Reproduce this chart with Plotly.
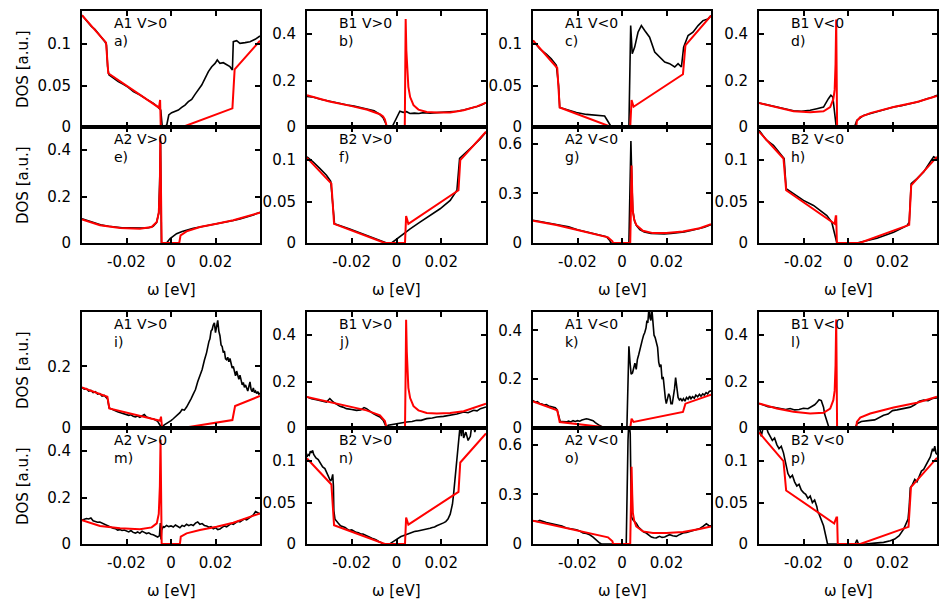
import plotly.graph_objects as go

# ---------------- data ----------------
# panel a : A1 V>0
a_exp_w = [-0.04, -0.0379, -0.0357, -0.0342, -0.0327, -0.0312, -0.0297, -0.029, -0.0285, -0.0279, -0.0259, -0.0237, -0.0214, -0.0192, -0.0169, -0.0139, -0.0109, -0.0079, -0.0057, -0.0046, -0.004, -0.0031, -0.0019, -0.001, 0.0003, 0.0018, 0.0033, 0.0048, 0.0063, 0.0078, 0.0093, 0.0108, 0.0123, 0.0138, 0.0153, 0.0168, 0.0183, 0.0198, 0.0208, 0.022, 0.0235, 0.025, 0.0265, 0.0276, 0.028, 0.0295, 0.031, 0.0333, 0.0355, 0.0378, 0.04]
a_exp_dos = [0.135, 0.128, 0.121, 0.118, 0.113, 0.107, 0.103, 0.099, 0.073, 0.063, 0.0587, 0.0547, 0.0515, 0.0479, 0.0426, 0.0386, 0.0334, 0.0286, 0.0237, 0.0205, 0.0024, 0.0, 0.0024, 0.0145, 0.0173, 0.0185, 0.0205, 0.0237, 0.0265, 0.0306, 0.0334, 0.0394, 0.0447, 0.0507, 0.0587, 0.0668, 0.0728, 0.0768, 0.0809, 0.0768, 0.0776, 0.0748, 0.0728, 0.0688, 0.103, 0.1042, 0.101, 0.1018, 0.103, 0.1058, 0.1098]
a_th_w = [-0.04, -0.0292, -0.0282, -0.0054, -0.0049, -0.0046, 0.0052, 0.0276, 0.0286, 0.04]
a_th_dos = [0.135, 0.1018, 0.0648, 0.0233, 0.0326, 0.0, 0.0, 0.0225, 0.0696, 0.1042]

# panel b : B1 V>0
b_exp_w = [-0.04, -0.037, -0.034, -0.031, -0.028, -0.025, -0.022, -0.019, -0.016, -0.013, -0.010, -0.008, -0.006, -0.0048, -0.0043, -0.002, -0.0005, 0.0005, 0.0015, 0.003, 0.0045, 0.006, 0.008, 0.010, 0.012, 0.015, 0.018, 0.021, 0.024, 0.027, 0.030, 0.033, 0.036, 0.038, 0.040]
b_exp_dos = [0.132, 0.128, 0.12, 0.113, 0.108, 0.102, 0.095, 0.09, 0.083, 0.077, 0.07, 0.058, 0.04, 0.015, 0.0, 0.0, 0.03, 0.055, 0.068, 0.063, 0.066, 0.058, 0.06, 0.058, 0.062, 0.06, 0.062, 0.063, 0.066, 0.068, 0.073, 0.079, 0.088, 0.095, 0.105]
b_th_w = [-0.04, -0.030, -0.020, -0.013, -0.0074, -0.0060, -0.0052, -0.0046, -0.0043, 0.0037, 0.0039, 0.0041, 0.0044, 0.0048, 0.0053, 0.0061, 0.0076, 0.0098, 0.0135, 0.018, 0.024, 0.030, 0.036, 0.040]
b_th_dos = [0.137, 0.110, 0.090, 0.074, 0.055, 0.045, 0.033, 0.015, 0.0, 0.0, 0.25, 0.465, 0.33, 0.24, 0.173, 0.129, 0.094, 0.075, 0.065, 0.062, 0.063, 0.072, 0.089, 0.105]

# panel c : A1 V<0
c_exp_w = [-0.04, -0.037, -0.034, -0.0318, -0.0295, -0.0285, -0.028, -0.025, -0.0205, -0.016, -0.0115, -0.0078, -0.0067, -0.0055, -0.0048, 0.0031, 0.0039, 0.0046, 0.0057, 0.0072, 0.0087, 0.0102, 0.0124, 0.0147, 0.0169, 0.0192, 0.0214, 0.0237, 0.0252, 0.0267, 0.0277, 0.0297, 0.0319, 0.0342, 0.0364, 0.0386, 0.04]
c_exp_dos = [0.1044, 0.0944, 0.088, 0.0824, 0.0744, 0.05, 0.0236, 0.0212, 0.0176, 0.0152, 0.0136, 0.0132, 0.0084, 0.0024, 0.0, 0.0, 0.1224, 0.0884, 0.0964, 0.1144, 0.1224, 0.1164, 0.1084, 0.0904, 0.0844, 0.0784, 0.0764, 0.0724, 0.0764, 0.0724, 0.0964, 0.1104, 0.1144, 0.1224, 0.1284, 0.1304, 0.1344]
c_th_w = [-0.04, -0.0291, -0.028, -0.0048, 0.0037, 0.0043, 0.0052, 0.0274, 0.0285, 0.04]
c_th_dos = [0.1044, 0.0712, 0.0236, 0.0, 0.0, 0.0324, 0.0244, 0.0636, 0.0984, 0.1344]

# panel d : B1 V<0
d_exp_w = [-0.04, -0.036, -0.032, -0.028, -0.0245, -0.021, -0.017, -0.014, -0.011, -0.0088, -0.0077, -0.0068, -0.0062, -0.0053, 0.0029, 0.004, 0.007, 0.010, 0.013, 0.0165, 0.0205, 0.024, 0.028, 0.032, 0.0355, 0.038, 0.04]
d_exp_dos = [0.1036, 0.095, 0.085, 0.075, 0.07, 0.068, 0.072, 0.079, 0.086, 0.122, 0.137, 0.129, 0.072, 0.0, 0.0, 0.029, 0.05, 0.058, 0.065, 0.074, 0.086, 0.092, 0.1, 0.11, 0.122, 0.128, 0.137]
d_th_w = [-0.04, -0.032, -0.0245, -0.017, -0.011, -0.008, -0.0066, -0.0060, -0.0056, -0.0053, -0.0051, -0.0049, 0.0037, 0.0040, 0.0055, 0.010, 0.0205, 0.031, 0.040]
d_th_dos = [0.1036, 0.0835, 0.0676, 0.0633, 0.0676, 0.086, 0.12, 0.16, 0.27, 0.463, 0.25, 0.0, 0.0, 0.026, 0.043, 0.060, 0.0863, 0.108, 0.134]

# panel e : A2 V>0
e_exp_w = [-0.04, -0.037, -0.034, -0.031, -0.028, -0.025, -0.022, -0.019, -0.016, -0.013, -0.010, -0.008, -0.0065, -0.0055, -0.005, -0.0047, -0.0043, -0.002, -0.0004, 0.0025, 0.005, 0.007, 0.010, 0.013, 0.016, 0.019, 0.022, 0.025, 0.028, 0.031, 0.034, 0.037, 0.040]
e_exp_dos = [0.105, 0.095, 0.085, 0.077, 0.072, 0.068, 0.066, 0.065, 0.063, 0.064, 0.066, 0.072, 0.088, 0.13, 0.3, 0.44, 0.0, 0.0, 0.019, 0.04, 0.05, 0.056, 0.063, 0.069, 0.074, 0.08, 0.085, 0.09, 0.097, 0.104, 0.112, 0.121, 0.133]
e_th_w = [-0.04, -0.0319, -0.0229, -0.014, -0.0087, -0.0064, -0.0055, -0.0050, -0.0048, -0.0045, -0.0042, 0.0037, 0.0043, 0.007, 0.013, 0.0205, 0.028, 0.040]
e_th_dos = [0.102, 0.0763, 0.0647, 0.0619, 0.069, 0.091, 0.13, 0.25, 0.458, 0.2, 0.0, 0.0, 0.033, 0.05, 0.069, 0.083, 0.098, 0.131]

# panel f : B2 V>0
f_exp_w = [-0.04, -0.0373, -0.0343, -0.0313, -0.0294, -0.0283, -0.0277, -0.0209, -0.0134, -0.0074, -0.0044, -0.0022, 0.0001, 0.0031, 0.0061, 0.0105, 0.015, 0.0195, 0.024, 0.027, 0.0282, 0.0315, 0.0345, 0.0375, 0.04]
f_exp_dos = [0.104, 0.098, 0.09, 0.0818, 0.0745, 0.0453, 0.0231, 0.017, 0.0089, 0.0028, 0.0, 0.0, 0.0049, 0.0109, 0.017, 0.0251, 0.0332, 0.0413, 0.0514, 0.0636, 0.102, 0.11, 0.118, 0.126, 0.134]
f_th_w = [-0.04, -0.0291, -0.0279, -0.0052, 0.0038, 0.0043, 0.0053, 0.0277, 0.0285, 0.04]
f_th_dos = [0.1028, 0.0717, 0.0231, 0.0, 0.0, 0.0324, 0.0231, 0.0636, 0.1, 0.1344]

# panel g : A2 V<0
g_exp_w = [-0.04, -0.036, -0.032, -0.028, -0.024, -0.020, -0.016, -0.012, -0.009, -0.007, -0.0055, -0.0050, 0.0031, 0.0036, 0.0040, 0.0043, 0.0048, 0.0057, 0.0065, 0.008, 0.010, 0.013, 0.016, 0.019, 0.022, 0.025, 0.028, 0.031, 0.034, 0.037, 0.040]
g_exp_dos = [0.137, 0.128, 0.118, 0.108, 0.098, 0.08, 0.068, 0.056, 0.047, 0.038, 0.015, 0.0, 0.0, 0.3, 0.616, 0.45, 0.2, 0.13, 0.105, 0.08, 0.066, 0.058, 0.055, 0.055, 0.058, 0.062, 0.067, 0.075, 0.085, 0.095, 0.11]
g_th_w = [-0.04, -0.0295, -0.0205, -0.0115, -0.0063, -0.0043, -0.0040, 0.0031, 0.0037, 0.0040, 0.0043, 0.0046, 0.0049, 0.0055, 0.0064, 0.0094, 0.0139, 0.0199, 0.0274, 0.0349, 0.040]
g_th_dos = [0.135, 0.109, 0.0795, 0.0497, 0.0338, 0.010, 0.0, 0.0, 0.0, 0.2, 0.467, 0.3, 0.189, 0.14, 0.109, 0.0735, 0.0596, 0.0596, 0.0695, 0.0894, 0.113]

# panel h : B2 V<0
h_exp_w = [-0.04, -0.0366, -0.0335, -0.0305, -0.0287, -0.0278, -0.0245, -0.02, -0.0155, -0.0125, -0.0095, -0.0073, -0.0058, -0.005, 0.004, 0.007, 0.013, 0.0205, 0.0265, 0.0275, 0.0284, 0.031, 0.034, 0.037, 0.0385, 0.04]
h_exp_dos = [0.136, 0.124, 0.118, 0.108, 0.102, 0.0656, 0.0595, 0.0514, 0.0453, 0.0393, 0.0332, 0.0251, 0.0069, 0.0, 0.0, 0.0016, 0.0057, 0.013, 0.021, 0.025, 0.0717, 0.0777, 0.0858, 0.098, 0.104, 0.102]
h_th_w = [-0.04, -0.029, -0.0278, -0.0060, -0.0055, -0.0053, -0.0050, 0.0052, 0.0275, 0.0284, 0.040]
h_th_dos = [0.1344, 0.102, 0.0636, 0.0231, 0.0324, 0.0324, 0.0, 0.0, 0.0219, 0.0696, 0.104]

# panel i : A1 V>0 (second set)
i_exp_w = [-0.04, -0.039, -0.038, -0.037, -0.036, -0.035, -0.034, -0.033, -0.032, -0.031, -0.030, -0.029, -0.0285, -0.0278, -0.027, -0.026, -0.025, -0.024, -0.023, -0.022, -0.021, -0.020, -0.019, -0.018, -0.017, -0.016, -0.015, -0.014, -0.013, -0.012, -0.011, -0.010, -0.009, -0.008, -0.007, -0.006, -0.005, -0.0042, -0.003, -0.002, -0.001, 0.0, 0.001, 0.002, 0.003, 0.004, 0.005, 0.006, 0.007, 0.008, 0.009, 0.010, 0.011, 0.012, 0.013, 0.014, 0.015, 0.016, 0.017, 0.0175, 0.018, 0.0185, 0.019, 0.0195, 0.020, 0.0205, 0.021, 0.0215, 0.022, 0.0225, 0.023, 0.0235, 0.024, 0.0245, 0.025, 0.0255, 0.026, 0.0265, 0.027, 0.0275, 0.028, 0.0285, 0.029, 0.0295, 0.030, 0.0305, 0.031, 0.0315, 0.032, 0.0325, 0.033, 0.0335, 0.034, 0.0345, 0.035, 0.0355, 0.036, 0.0365, 0.037, 0.0375, 0.038, 0.0385, 0.039, 0.0395, 0.040]
i_exp_dos = [0.132, 0.126, 0.128, 0.12, 0.122, 0.115, 0.118, 0.11, 0.112, 0.104, 0.106, 0.098, 0.094, 0.065, 0.062, 0.058, 0.056, 0.053, 0.05, 0.048, 0.046, 0.043, 0.041, 0.043, 0.038, 0.036, 0.039, 0.035, 0.04, 0.044, 0.036, 0.033, 0.031, 0.03, 0.027, 0.022, 0.01, 0.003, 0.01, 0.014, 0.02, 0.024, 0.03, 0.036, 0.045, 0.05, 0.06, 0.058, 0.068, 0.08, 0.095, 0.11, 0.125, 0.15, 0.168, 0.19, 0.22, 0.245, 0.28, 0.29, 0.315, 0.32, 0.335, 0.342, 0.31, 0.335, 0.35, 0.315, 0.3, 0.27, 0.265, 0.245, 0.25, 0.225, 0.222, 0.23, 0.215, 0.226, 0.205, 0.195, 0.2, 0.18, 0.17, 0.185, 0.165, 0.158, 0.172, 0.15, 0.14, 0.148, 0.132, 0.14, 0.128, 0.12, 0.135, 0.15, 0.125, 0.118, 0.13, 0.115, 0.12, 0.112, 0.118, 0.11, 0.113]
i_th_w = [-0.04, -0.0286, -0.0277, -0.0049, -0.0045, -0.004, 0.0052, 0.0276, 0.0288, 0.04]
i_th_dos = [0.132, 0.1016, 0.0638, 0.0238, 0.0368, 0.0, 0.0, 0.026, 0.0714, 0.104]

# panel j : B1 V>0 (second set)
j_exp_w = [-0.04, -0.038, -0.0358, -0.0335, -0.0313, -0.0298, -0.0283, -0.027, -0.0253, -0.024, -0.0224, -0.02, -0.0179, -0.016, -0.0145, -0.0134, -0.012, -0.0104, -0.009, -0.0074, -0.0059, -0.0052, -0.0044, -0.0037, -0.002, 0.0001, 0.002, 0.0046, 0.007, 0.009, 0.011, 0.0135, 0.016, 0.018, 0.021, 0.024, 0.027, 0.03, 0.032, 0.0345, 0.036, 0.0375, 0.039, 0.04]
j_exp_dos = [0.134, 0.126, 0.122, 0.117, 0.112, 0.127, 0.112, 0.104, 0.0935, 0.09, 0.0835, 0.08, 0.076, 0.078, 0.088, 0.0835, 0.072, 0.0619, 0.055, 0.0475, 0.0331, 0.0187, 0.0, 0.0115, 0.015, 0.0187, 0.022, 0.0259, 0.028, 0.0331, 0.033, 0.0403, 0.043, 0.0475, 0.05, 0.0547, 0.06, 0.0691, 0.066, 0.0763, 0.074, 0.0835, 0.086, 0.0906]
j_th_w = [-0.04, -0.030, -0.0209, -0.0134, -0.0074, -0.0052, -0.0044, 0.0038, 0.0041, 0.0043, 0.0046, 0.0049, 0.0053, 0.0061, 0.0076, 0.0098, 0.0135, 0.018, 0.024, 0.030, 0.036, 0.040]
j_th_dos = [0.134, 0.112, 0.0935, 0.076, 0.0547, 0.030, 0.0, 0.0, 0.25, 0.467, 0.33, 0.24, 0.173, 0.129, 0.094, 0.076, 0.065, 0.062, 0.065, 0.072, 0.09, 0.105]

# panel k : A1 V<0 (second set)
k_exp_w = [-0.04, -0.039, -0.038, -0.037, -0.036, -0.035, -0.034, -0.033, -0.032, -0.031, -0.030, -0.0292, -0.0285, -0.0278, -0.027, -0.026, -0.025, -0.024, -0.023, -0.022, -0.021, -0.020, -0.019, -0.018, -0.017, -0.016, -0.015, -0.014, -0.013, -0.012, -0.011, -0.010, -0.009, -0.008, -0.007, 0.0022, 0.0028, 0.0031, 0.0036, 0.0041, 0.0047, 0.0053, 0.0058, 0.0064, 0.0069, 0.0075, 0.008, 0.0086, 0.0091, 0.0097, 0.0102, 0.0108, 0.0112, 0.0116, 0.0121, 0.0126, 0.013, 0.0134, 0.0139, 0.0144, 0.0149, 0.0155, 0.016, 0.0165, 0.017, 0.0175, 0.018, 0.0185, 0.019, 0.0195, 0.0199, 0.0205, 0.021, 0.0215, 0.022, 0.0226, 0.023, 0.0236, 0.0241, 0.0246, 0.0252, 0.0258, 0.0264, 0.027, 0.0276, 0.0283, 0.029, 0.0297, 0.0304, 0.031, 0.0317, 0.0325, 0.0332, 0.034, 0.0348, 0.0355, 0.0363, 0.037, 0.0378, 0.0385, 0.0392, 0.040]
k_exp_dos = [0.113, 0.105, 0.108, 0.1, 0.098, 0.094, 0.096, 0.09, 0.088, 0.086, 0.083, 0.075, 0.045, 0.028, 0.026, 0.024, 0.025, 0.028, 0.025, 0.03, 0.027, 0.03, 0.028, 0.033, 0.035, 0.038, 0.036, 0.032, 0.03, 0.022, 0.015, 0.01, 0.005, 0.002, 0.0, 0.0, 0.2, 0.335, 0.27, 0.22, 0.225, 0.25, 0.265, 0.24, 0.28, 0.3, 0.32, 0.35, 0.36, 0.38, 0.39, 0.41, 0.44, 0.43, 0.49, 0.45, 0.44, 0.49, 0.42, 0.38, 0.37, 0.34, 0.33, 0.27, 0.25, 0.26, 0.2, 0.21, 0.15, 0.12, 0.1, 0.12, 0.14, 0.13, 0.1, 0.1, 0.12, 0.16, 0.206, 0.16, 0.125, 0.115, 0.12, 0.11, 0.12, 0.11, 0.125, 0.118, 0.13, 0.12, 0.128, 0.122, 0.135, 0.128, 0.138, 0.13, 0.14, 0.135, 0.145, 0.14, 0.15, 0.152]
k_th_w = [-0.04, -0.0291, -0.028, -0.0048, 0.0037, 0.0043, 0.0052, 0.0274, 0.0285, 0.04]
k_th_dos = [0.109, 0.0724, 0.0246, 0.0, 0.0, 0.0382, 0.0246, 0.0655, 0.0997, 0.1365]

# panel l : B1 V<0 (second set)
l_exp_w = [-0.04, -0.038, -0.036, -0.034, -0.032, -0.030, -0.028, -0.026, -0.024, -0.022, -0.020, -0.018, -0.016, -0.015, -0.014, -0.013, -0.012, -0.011, -0.0105, -0.0095, -0.0085, 0.0032, 0.004, 0.006, 0.008, 0.010, 0.012, 0.014, 0.016, 0.018, 0.020, 0.022, 0.024, 0.026, 0.028, 0.030, 0.032, 0.034, 0.036, 0.038, 0.040]
l_exp_dos = [0.106, 0.1, 0.092, 0.09, 0.087, 0.082, 0.08, 0.084, 0.078, 0.08, 0.085, 0.083, 0.095, 0.1, 0.11, 0.122, 0.118, 0.09, 0.06, 0.03, 0.0, 0.0, 0.018, 0.028, 0.032, 0.033, 0.035, 0.045, 0.055, 0.06, 0.075, 0.078, 0.083, 0.085, 0.09, 0.1, 0.115, 0.12, 0.118, 0.127, 0.13]
l_th_w = [-0.04, -0.032, -0.0245, -0.017, -0.011, -0.008, -0.0066, -0.006, -0.0056, -0.0053, -0.0051, -0.0049, 0.0037, 0.004, 0.0055, 0.01, 0.0205, 0.031, 0.04]
l_th_dos = [0.106, 0.084, 0.0696, 0.0623, 0.0652, 0.084, 0.12, 0.16, 0.27, 0.468, 0.25, 0.0, 0.0, 0.026, 0.045, 0.0623, 0.0884, 0.109, 0.135]

# panel m : A2 V>0 (second set)
m_exp_w = [-0.04, -0.039, -0.038, -0.037, -0.036, -0.035, -0.034, -0.033, -0.032, -0.031, -0.030, -0.029, -0.028, -0.027, -0.026, -0.025, -0.024, -0.023, -0.022, -0.021, -0.020, -0.019, -0.018, -0.017, -0.016, -0.015, -0.014, -0.013, -0.012, -0.011, -0.010, -0.009, -0.008, -0.007, -0.006, -0.0052, -0.0048, -0.0045, -0.0042, -0.0035, -0.003, -0.002, -0.001, 0.0, 0.001, 0.002, 0.003, 0.004, 0.005, 0.006, 0.007, 0.008, 0.009, 0.010, 0.011, 0.012, 0.013, 0.014, 0.015, 0.016, 0.017, 0.018, 0.019, 0.020, 0.021, 0.022, 0.023, 0.024, 0.025, 0.026, 0.027, 0.028, 0.029, 0.030, 0.031, 0.032, 0.033, 0.034, 0.035, 0.036, 0.037, 0.038, 0.039, 0.040]
m_exp_dos = [0.103, 0.105, 0.11, 0.108, 0.112, 0.1, 0.097, 0.094, 0.095, 0.09, 0.087, 0.08, 0.075, 0.07, 0.068, 0.066, 0.06, 0.062, 0.058, 0.06, 0.055, 0.052, 0.058, 0.05, 0.047, 0.052, 0.046, 0.055, 0.05, 0.045, 0.048, 0.042, 0.04, 0.035, 0.03, 0.035, 0.09, 0.02, 0.06, 0.075, 0.072, 0.08, 0.075, 0.078, 0.073, 0.082, 0.077, 0.07, 0.08, 0.076, 0.085, 0.079, 0.084, 0.08, 0.09, 0.095, 0.085, 0.088, 0.08, 0.078, 0.072, 0.075, 0.066, 0.07, 0.062, 0.065, 0.072, 0.078, 0.074, 0.082, 0.088, 0.085, 0.093, 0.098, 0.095, 0.102, 0.108, 0.104, 0.112, 0.118, 0.125, 0.14, 0.135, 0.13]
m_th_w = [-0.04, -0.0319, -0.0229, -0.014, -0.0087, -0.0064, -0.0055, -0.005, -0.0047, -0.0045, -0.0042, 0.004, 0.0044, 0.007, 0.013, 0.0205, 0.028, 0.04]
m_th_dos = [0.103, 0.0774, 0.0674, 0.0631, 0.0717, 0.0889, 0.13, 0.25, 0.45, 0.2, 0.0, 0.0, 0.0315, 0.0459, 0.0602, 0.0746, 0.0918, 0.132]

# panel n : B2 V>0 (second set)
n_exp_w = [-0.04, -0.0395, -0.039, -0.0385, -0.038, -0.0375, -0.037, -0.036, -0.035, -0.034, -0.033, -0.032, -0.031, -0.030, -0.0295, -0.029, -0.0285, -0.0282, -0.028, -0.0275, -0.027, -0.026, -0.025, -0.024, -0.023, -0.022, -0.021, -0.020, -0.019, -0.018, -0.017, -0.016, -0.015, -0.014, -0.013, -0.012, -0.011, -0.010, -0.009, -0.008, -0.007, -0.006, -0.003, -0.002, -0.001, 0.0, 0.001, 0.002, 0.003, 0.004, 0.005, 0.006, 0.007, 0.008, 0.009, 0.010, 0.011, 0.012, 0.013, 0.014, 0.015, 0.016, 0.017, 0.018, 0.019, 0.020, 0.021, 0.022, 0.023, 0.024, 0.025, 0.0255, 0.026, 0.0265, 0.027, 0.0275, 0.028, 0.0285, 0.029, 0.0295, 0.030, 0.031, 0.032, 0.033, 0.034, 0.035, 0.036, 0.037, 0.038, 0.039, 0.040]
n_exp_dos = [0.105, 0.108, 0.107, 0.112, 0.11, 0.113, 0.108, 0.104, 0.102, 0.098, 0.093, 0.091, 0.085, 0.08, 0.076, 0.078, 0.084, 0.07, 0.04, 0.03, 0.028, 0.025, 0.022, 0.021, 0.02, 0.018, 0.0165, 0.017, 0.015, 0.014, 0.0135, 0.012, 0.012, 0.0105, 0.01, 0.0085, 0.007, 0.006, 0.005, 0.003, 0.002, 0.0, 0.0, 0.002, 0.004, 0.006, 0.0075, 0.009, 0.01, 0.011, 0.012, 0.0135, 0.014, 0.015, 0.0155, 0.016, 0.0165, 0.017, 0.018, 0.0185, 0.019, 0.02, 0.0205, 0.022, 0.023, 0.024, 0.0255, 0.027, 0.03, 0.036, 0.048, 0.06, 0.075, 0.09, 0.105, 0.12, 0.135, 0.145, 0.13, 0.15, 0.128, 0.135, 0.125, 0.13, 0.15, 0.135, 0.145, 0.138, 0.15, 0.14, 0.15]
n_th_w = [-0.04, -0.0291, -0.0279, -0.0052, 0.0038, 0.0043, 0.0053, 0.0277, 0.0285, 0.04]
n_th_dos = [0.1032, 0.0718, 0.0226, 0.0, 0.0, 0.0319, 0.0234, 0.0629, 0.0984, 0.1335]

# panel o : A2 V<0 (second set)
o_exp_w = [-0.04, -0.038, -0.037, -0.035, -0.034, -0.032, -0.0295, -0.027, -0.025, -0.023, -0.0205, -0.019, -0.0175, -0.016, -0.0145, -0.013, -0.0115, -0.01, -0.0093, 0.0019, 0.0027, 0.0031, 0.0037, 0.0042, 0.0049, 0.0064, 0.0075, 0.0087, 0.0098, 0.0109, 0.012, 0.0132, 0.0143, 0.0154, 0.0162, 0.0169, 0.018, 0.0192, 0.0203, 0.0214, 0.0228, 0.0244, 0.026, 0.0274, 0.029, 0.0304, 0.032, 0.0334, 0.035, 0.0364, 0.0372, 0.0379, 0.039, 0.04]
o_exp_dos = [0.14, 0.136, 0.142, 0.132, 0.13, 0.124, 0.116, 0.108, 0.096, 0.092, 0.086, 0.078, 0.066, 0.064, 0.056, 0.042, 0.022, 0.006, 0.0, 0.0, 0.626, 0.75, 0.666, 0.166, 0.146, 0.126, 0.1, 0.086, 0.072, 0.066, 0.052, 0.042, 0.038, 0.036, 0.042, 0.046, 0.04, 0.042, 0.05, 0.056, 0.05, 0.046, 0.058, 0.066, 0.07, 0.076, 0.08, 0.086, 0.094, 0.106, 0.118, 0.122, 0.112, 0.11]
o_th_w = [-0.04, -0.0295, -0.0205, -0.0115, -0.0063, -0.0043, -0.004, 0.0037, 0.004, 0.0043, 0.0046, 0.0049, 0.0055, 0.0064, 0.0094, 0.0139, 0.0199, 0.0274, 0.0349, 0.04]
o_th_dos = [0.14, 0.11, 0.082, 0.056, 0.04, 0.016, 0.0, 0.0, 0.2, 0.466, 0.3, 0.186, 0.14, 0.106, 0.076, 0.066, 0.066, 0.072, 0.09, 0.106]

# panel p : B2 V<0 (second set)
p_exp_w = [-0.04, -0.039, -0.038, -0.0375, -0.036, -0.035, -0.034, -0.033, -0.032, -0.031, -0.030, -0.029, -0.028, -0.0275, -0.027, -0.026, -0.025, -0.024, -0.023, -0.022, -0.021, -0.020, -0.019, -0.018, -0.017, -0.016, -0.015, -0.014, -0.0135, -0.013, -0.012, -0.011, -0.010, -0.0092, 0.0032, 0.004, 0.0047, 0.008, 0.012, 0.016, 0.019, 0.021, 0.023, 0.024, 0.025, 0.026, 0.027, 0.0275, 0.028, 0.029, 0.030, 0.031, 0.032, 0.033, 0.034, 0.035, 0.036, 0.037, 0.038, 0.0385, 0.039, 0.0395, 0.040]
p_exp_dos = [0.145, 0.13, 0.142, 0.15, 0.135, 0.13, 0.125, 0.128, 0.12, 0.115, 0.118, 0.11, 0.098, 0.09, 0.085, 0.08, 0.083, 0.075, 0.07, 0.072, 0.065, 0.062, 0.06, 0.055, 0.058, 0.05, 0.053, 0.045, 0.038, 0.036, 0.03, 0.022, 0.01, 0.0, 0.0, 0.005, 0.0, 0.0, 0.001, 0.002, 0.004, 0.006, 0.01, 0.014, 0.018, 0.024, 0.03, 0.045, 0.068, 0.072, 0.078, 0.075, 0.082, 0.088, 0.09, 0.095, 0.1, 0.105, 0.115, 0.112, 0.118, 0.11, 0.108]
p_th_w = [-0.04, -0.029, -0.0278, -0.0062, -0.0052, -0.0049, -0.0046, 0.0055, 0.0272, 0.0283, 0.04]
p_th_dos = [0.1346, 0.1, 0.0646, 0.0248, 0.0321, 0.0321, 0.0, 0.0, 0.0207, 0.0687, 0.104]

panel_ids = list("abcdefghijklmnop")
panel_names = ["A1 V>0", "B1 V>0", "A1 V<0", "B1 V<0",
               "A2 V>0", "B2 V>0", "A2 V<0", "B2 V<0",
               "A1 V>0", "B1 V>0", "A1 V<0", "B1 V<0",
               "A2 V>0", "B2 V>0", "A2 V<0", "B2 V<0"]
y_max = [0.14, 0.5, 0.14, 0.5,
         0.5, 0.14, 0.7, 0.14,
         0.377, 0.5, 0.475, 0.5,
         0.5, 0.14, 0.7, 0.14]
y_tick_vals = [[0, 0.05, 0.1], [0, 0.2, 0.4], [0, 0.05, 0.1], [0, 0.2, 0.4],
               [0, 0.2, 0.4], [0, 0.05, 0.1], [0, 0.3, 0.6], [0, 0.05, 0.1],
               [0, 0.2], [0, 0.2, 0.4], [0, 0.2, 0.4], [0, 0.2, 0.4],
               [0, 0.2, 0.4], [0, 0.05, 0.1], [0, 0.3, 0.6], [0, 0.05, 0.1]]
y_tick_text = [["0", "0.05", "0.1"], ["0", "0.2", "0.4"], ["0", "0.05", "0.1"], ["0", "0.2", "0.4"],
               ["0", "0.2", "0.4"], ["0", "0.05", "0.1"], ["0", "0.3", "0.6"], ["0", "0.05", "0.1"],
               ["0", "0.2"], ["0", "0.2", "0.4"], ["0", "0.2", "0.4"], ["0", "0.2", "0.4"],
               ["0", "0.2", "0.4"], ["0", "0.05", "0.1"], ["0", "0.3", "0.6"], ["0", "0.05", "0.1"]]
x_range = [-0.04, 0.04]
x_tick_vals = [-0.02, 0, 0.02]
x_tick_text = ["-0.02", "0", "0.02"]

g = globals()
for pid in panel_ids:
    for kind in ("exp", "th"):
        if len(g[f"{pid}_{kind}_w"]) != len(g[f"{pid}_{kind}_dos"]):
            raise ValueError(f"length mismatch {pid} {kind}")

# ---------------- layout ----------------
W, H = 946, 604
COLS = [(82, 260), (307, 486), (533, 711), (759, 937)]
ROWS = [(11, 127), (127, 243), (312, 428), (428, 544)]
FONT = "DejaVu Sans"

fig = go.Figure()
layout = dict(width=W, height=H, margin=dict(l=0, r=0, t=0, b=0, pad=0), autosize=False,
              paper_bgcolor="white", plot_bgcolor="white", showlegend=False,
              font=dict(family=FONT, size=15, color="black"))
annotations = []

for idx, pid in enumerate(panel_ids):
    r, c = divmod(idx, 4)
    n = idx + 1
    xs = "" if n == 1 else str(n)
    x0, x1 = COLS[c]
    y0, y1 = ROWS[r]
    layout["xaxis" + xs] = dict(
        domain=[x0 / W, x1 / W], range=x_range, anchor="y" + xs, automargin=False,
        tickvals=x_tick_vals, ticktext=x_tick_text, ticks="inside", ticklen=5,
        tickwidth=1.5, tickcolor="black", showline=True, linewidth=2, linecolor="black",
        mirror="ticks", showgrid=False, zeroline=False, ticklabelstandoff=4,
        showticklabels=(r in (1, 3)), tickfont=dict(family=FONT, size=15, color="black"))
    layout["yaxis" + xs] = dict(
        domain=[1 - y1 / H, 1 - y0 / H], range=[0, y_max[idx]], anchor="x" + xs, automargin=False,
        tickvals=y_tick_vals[idx], ticktext=y_tick_text[idx], ticks="inside", ticklen=5,
        tickwidth=1.5, tickcolor="black", showline=True, linewidth=2, linecolor="black",
        mirror="ticks", showgrid=False, zeroline=False, ticklabelstandoff=6,
        tickfont=dict(family=FONT, size=15, color="black"))
    fig.add_trace(go.Scatter(x=g[f"{pid}_exp_w"], y=g[f"{pid}_exp_dos"], mode="lines",
                             line=dict(color="black", width=1.6),
                             xaxis="x" + xs, yaxis="y" + xs))
    fig.add_trace(go.Scatter(x=g[f"{pid}_th_w"], y=g[f"{pid}_th_dos"], mode="lines",
                             line=dict(color="#ff0000", width=2),
                             xaxis="x" + xs, yaxis="y" + xs))
    annotations.append(dict(text=panel_names[idx], xref="x" + xs + " domain", yref="y" + xs + " domain",
                            x=30 / 178, y=1 - 12.3 / 116, xanchor="left", yanchor="middle",
                            showarrow=False, font=dict(family=FONT, size=14, color="black")))
    annotations.append(dict(text=pid + ")", xref="x" + xs + " domain", yref="y" + xs + " domain",
                            x=30 / 178, y=1 - 30 / 116, xanchor="left", yanchor="middle",
                            showarrow=False, font=dict(family=FONT, size=14, color="black")))
    if c == 0:
        annotations.append(dict(text="DOS [a.u.]", xref="paper", yref="paper",
                                x=23 / W, y=1 - (y0 + y1) / 2 / H, xanchor="center", yanchor="middle",
                                textangle=-90, showarrow=False,
                                font=dict(family=FONT, size=15, color="black")))
    if r in (1, 3):
        annotations.append(dict(text="ω [eV]", xref="paper", yref="paper",
                                x=(x0 + x1) / 2 / W, y=1 - (y1 + 47) / H, xanchor="center", yanchor="middle",
                                showarrow=False, font=dict(family=FONT, size=15, color="black")))

layout["annotations"] = annotations
fig.update_layout(**layout)
fig.write_html("out.html")
